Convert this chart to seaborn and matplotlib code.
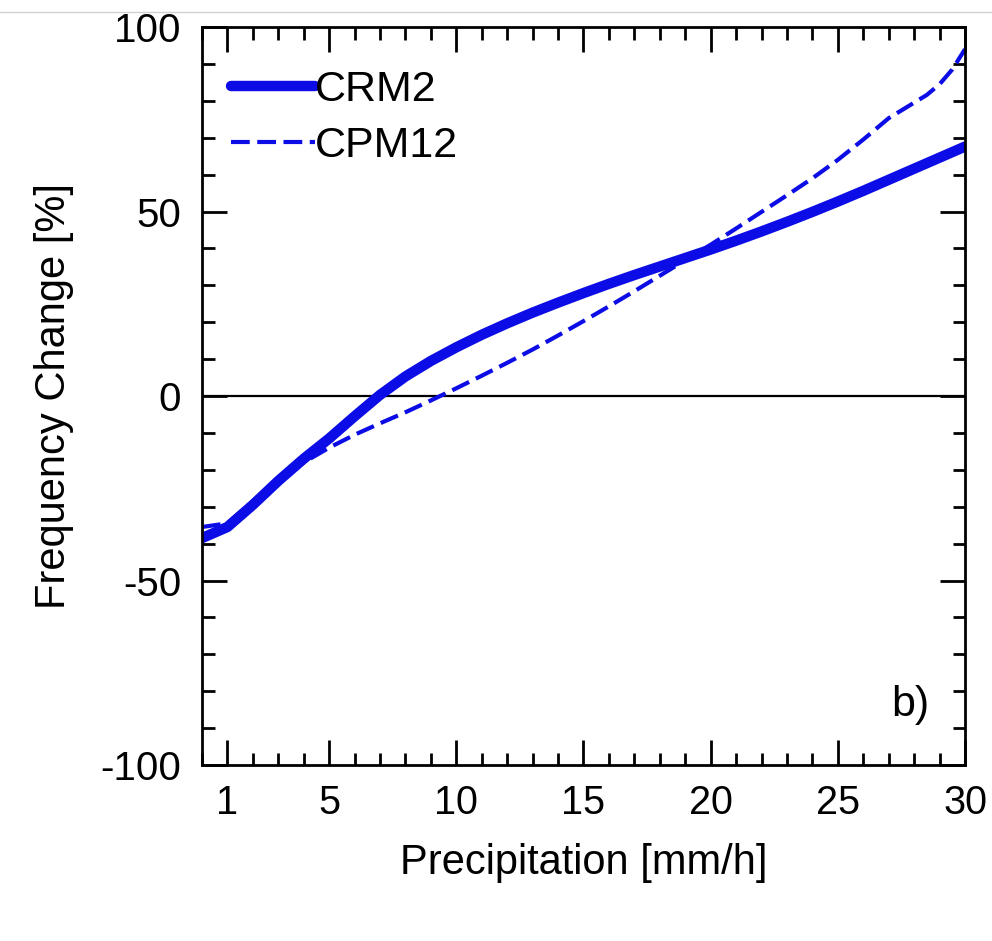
import matplotlib
matplotlib.use('Agg')
import matplotlib.pyplot as plt
from matplotlib.lines import Line2D
from matplotlib.ticker import MultipleLocator, FixedLocator
import seaborn as sns
import pandas as pd

# values
crm2_x = [0, 0.5, 1, 2, 3, 4, 5, 6, 7, 8, 9, 10, 11, 12, 13, 14, 15, 16, 17, 18,
          19, 20, 21, 22, 23, 24, 25, 26, 27, 28, 29, 30]
crm2_y = [-38.5, -37, -35.5, -29.5, -23, -17, -11.5, -5.5, 0.3, 5.3, 9.5, 13.2, 16.6,
          19.7, 22.6, 25.3, 27.9, 30.4, 32.8, 35.1, 37.4, 39.7, 42.1, 44.6, 47.2, 49.9,
          52.7, 55.6, 58.6, 61.6, 64.6, 67.6]

cpm12_x = [0, 0.5, 1, 1.5, 2, 3, 4, 5, 6, 7, 8, 9, 10, 11, 12, 13, 14, 15, 16, 17, 18,
           19, 20, 21, 22, 23, 24, 25, 26, 27, 28, 28.5, 29, 29.5, 30]
cpm12_y = [-35.5, -35, -34.5, -31.5, -28.5, -22.8, -18, -14, -10.5, -7.4, -4.4, -1.2, 2.1,
           5.5, 9, 12.6, 16.4, 20.3, 24.3, 28.4, 32.6, 36.8, 41, 45.4, 49.9, 54.4, 59,
           64, 69.5, 75.3, 79.5, 81.6, 84.5, 88.5, 94]

x_ticks = [1, 5, 10, 15, 20, 25, 30]
y_ticks = [-100, -50, 0, 50, 100]

crm2 = pd.DataFrame({'precip': crm2_x, 'change': crm2_y})
cpm12 = pd.DataFrame({'precip': cpm12_x, 'change': cpm12_y})

sns.set_style('ticks')
plt.rcParams['font.family'] = ['Liberation Sans', 'DejaVu Sans']
plt.rcParams['axes.unicode_minus'] = False
plt.rcParams['text.color'] = 'black'
plt.rcParams['axes.labelcolor'] = 'black'

blue = '#0c0ce6'

fig = plt.figure(figsize=(9.92, 9.41), dpi=100)
ax = fig.add_axes([0.2036, 0.187, 0.7692, 0.7843])

sns.lineplot(data=crm2, x='precip', y='change', ax=ax, color=blue, lw=7.5,
             label='CRM2', solid_capstyle='round', solid_joinstyle='round')
sns.lineplot(data=cpm12, x='precip', y='change', ax=ax, color=blue, lw=3,
             dashes=(4.5, 1.8), label='CPM12')
ax.axhline(0, color='black', lw=1.6, zorder=1)

ax.set_xlim(0, 30)
ax.set_ylim(-100, 100)
ax.xaxis.set_major_locator(FixedLocator(x_ticks))
ax.xaxis.set_minor_locator(MultipleLocator(1))
ax.yaxis.set_major_locator(FixedLocator(y_ticks))
ax.yaxis.set_minor_locator(MultipleLocator(10))

ax.tick_params(which='both', direction='in', top=True, right=True, width=2,
               colors='black', labelcolor='black')
ax.tick_params(which='major', length=18)
ax.tick_params(which='minor', length=9)
ax.tick_params(axis='x', which='major', pad=14, labelsize=28.5)
ax.tick_params(axis='y', which='major', pad=15, labelsize=29)

for s in ax.spines.values():
    s.set_linewidth(2)
    s.set_color('black')

ax.set_xlabel('Precipitation [mm/h]', fontsize=30)
ax.set_ylabel('Frequency Change [%]', fontsize=30)
ax.xaxis.set_label_coords(0.5, -0.105)
ax.yaxis.set_label_coords(-0.168, 0.5)

leg = ax.legend(loc='upper left', frameon=False, fontsize=31, handlelength=1.95,
                handletextpad=0.0, labelspacing=0.38, borderaxespad=0,
                bbox_to_anchor=(0.015, 0.965))
for t in leg.get_texts():
    t.set_color('black')

ax.text(0.928, 0.081, 'b)', transform=ax.transAxes, fontsize=31,
        ha='center', va='center')

fig.add_artist(Line2D([0, 1], [0.987, 0.987], color='#d0d0d0', lw=1))

fig.savefig('out.png', dpi=100)
